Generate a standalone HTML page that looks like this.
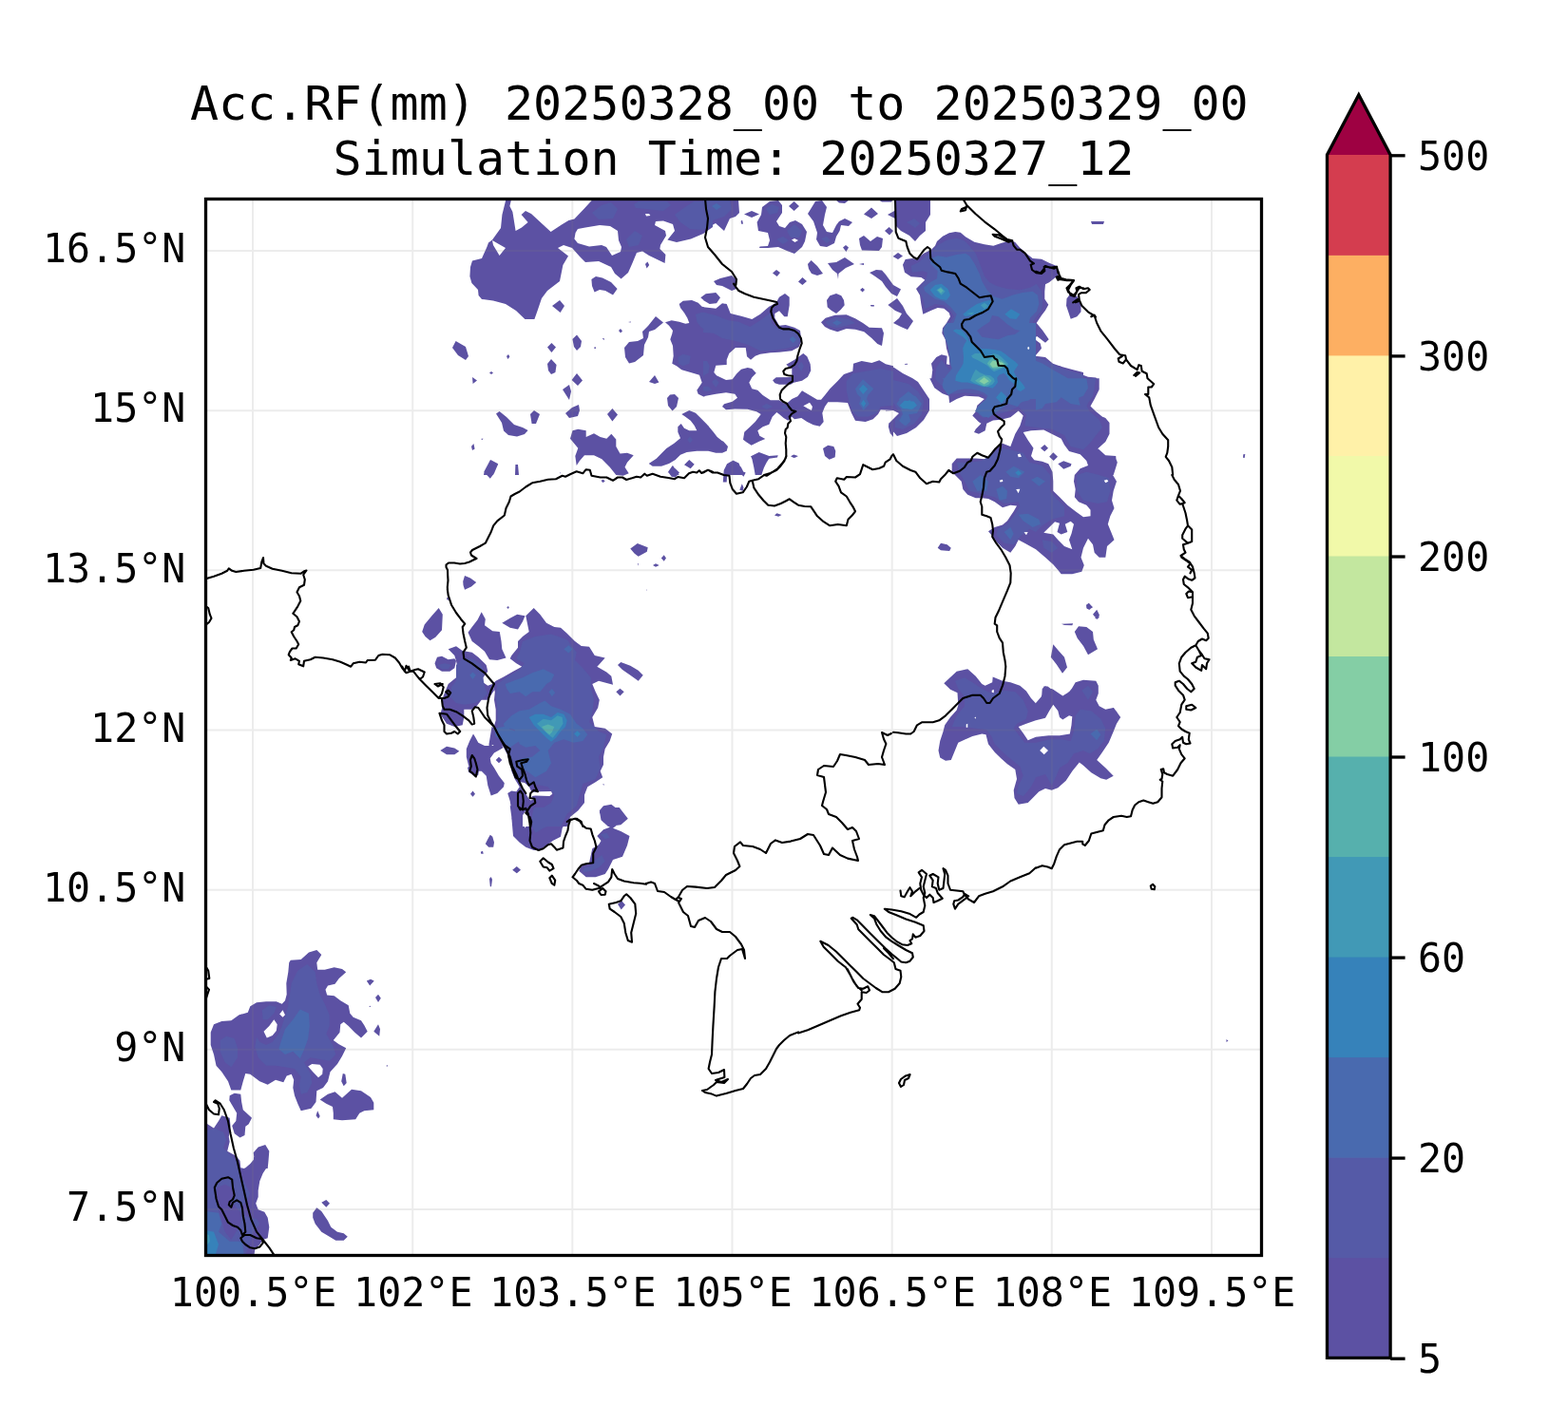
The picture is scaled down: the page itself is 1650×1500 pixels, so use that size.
<!DOCTYPE html>
<html lang="en"><head><meta charset="utf-8"><title>Acc.RF(mm) 20250328_00 to 20250329_00</title>
<style>html,body{margin:0;padding:0;background:#fff}body{width:1650px;height:1500px;overflow:hidden}svg{display:block}text{font-family:"DejaVu Sans Mono","Liberation Mono",monospace;fill:#000}.t{font-size:50px;text-anchor:middle}.k{font-size:41.67px}.c{fill:none;stroke:#000;stroke-width:2.1;stroke-linejoin:round;stroke-linecap:round}.g{stroke:#808080;stroke-opacity:.15;stroke-width:2;fill:none}</style></head><body>
<svg width="1650" height="1500" viewBox="0 0 1650 1500">
<rect width="1650" height="1500" fill="#fff"/>
<defs><clipPath id="ax"><rect x="216.5" y="209.5" width="1111.0" height="1112.0"/></clipPath></defs>
<g clip-path="url(#ax)">
<g id="fills">
<path fill="#5c51a3" d="M532.4 210L538 210L536.4 217L539.4 223L542.6 243L549 239.6L555.6 234L548.6 226L553 222L559 225L579.6 244L591 236.4L598.4 232L604.4 230.4L614.4 220L623.6 210L750 210L750 239L740 246L727 251.6L712 255L702.4 252.4L710 243L708 236L698 232.4L690 233L689 237L700 243L701 248L695 258L694.4 262L700.4 268L699.6 277L683 269L676 264.4L670 266L665 278L661 287L653.6 293.6L647 288L643 281L630 275L616 276L610 270L602 261L593 258L587 261L598 269.6L592.4 279L589 296L576 306L570 314L565.6 327L562.4 336L552.4 336L543 327L532 320L519 316.4L507 315L503.6 311L503 305L496.4 298L494.4 291L495 281L497 274.4L507 272L512.4 260L514 255.6L518 252.4L527 240L528.4 226ZM622.4 294L627 291L634 292.4L643 297L649.6 304L645 310.4L637 306L631 305L625.6 307.6L623 301ZM581 322L589 316L594 322L589.6 329ZM476 366L479.6 359L490 365L493 375L490 379L482 374ZM533 375L535 373L536.4 375.6L534.4 378ZM515 392.4L517 391L519 392.4L517 394ZM497 397L502 400.6L497.6 404ZM576 365.6L580.4 361L585 365.6L580.4 371ZM602.4 357L607 352.4L612 359L611 365L607 369L604 365ZM576 383L580 378L585.6 384L584.4 392L580 394L577 390ZM601.6 400L607 393L613 400.6L608 406ZM592 410L599 405L601 412L599 421ZM595 435L602 429L609 426L610 432L608 438L599 440ZM558 436L562 432L568 436L564 446L559.6 446ZM522 435.6L525.6 433L533 439L541 447L550 450L555.6 453L552 457L544 459.6L535 458L530 453.6L528 445ZM506 462L508.4 461.6L507.6 463ZM496 470L498.4 467L499.6 472.4L497 474ZM509.6 496L516 484L524 489L519 500L509 500ZM542.4 489L545 489L546 500L542 500ZM651 348L653 346L655 348.4L653 350.4ZM625 366L626.4 365L627.2 366.4L626 367.2ZM661 339L664 338.6L663.6 339.6ZM633.6 356.6L635.6 356L636 358ZM683 402L689 395L693.4 402.4L689 404ZM702 419L705 415.6L710 415L714 419L712 428L707.6 432.4L703 427ZM639 436L644.4 430L650 436.6L644.4 443.6ZM657 366L662 360L671 359L677 356L676 349L682 343L690 333L698 339.6L689 347L683 349L682 355L678 363L677 374L668 381L662 382.4L658 376ZM679 278L681.4 275.6L683.2 279L680.6 282.6ZM740 210L777 210L778 224L774 228L768 230L762 243L753 235L746 239L740 244ZM783 225.6L791 222L799 225.6L791 229ZM779.6 233L781 231.6L782 235.6L780.4 236ZM802 218L810 212L819 211L823 216L823 224L817 233L820 238L826 240L831 234L837 232L844 236L849 244L847 254L844 260L836 267L828 264L819 260L808 261L799 261L799.6 259.6L808 259L810 253L808 245L798 243L796.6 234L801 226ZM830 217L835.6 212L841 217L835.6 222ZM850 225L858 212L865 211L870 218L868 226L866 237L870 244L876 245L880 237L883 233L889 230L897 234L893 238L885 237L883.6 243L880 249L878 256L870 260L863 259L859 252L860 245L856 233ZM879 210L894 210L889 214L883 213.6ZM924 210L940 210L938 212.4L928 212.4ZM909 225.6L917 218.4L924 225L917 230ZM942 210L979 210L979 226L974 234L974 243L968 248L963 254L957 248L948 243L943 238L942 230L934 226L942 221.6ZM931 243L935.6 239L940 243L936 247.6ZM904 251L909 248L916 254L923 249L929 251L928 260L925 264L907 263.6L905 258ZM887 260.6L890 258L893 260.6L890.4 265ZM939.6 270L945 266L950 269.6L945 273ZM850 278L853.6 274L860 280L866 288L860 290L854 288L851 283ZM871 277L880 276L889 271L899 278L890 282L882.4 288L882 294L881 288L876 284ZM904 278L909 277L909 279ZM813 287.6L817 284L821 287L817.6 291ZM840 296.4L844.4 292L849 296L844.4 300ZM915 287L922 284L928 284.4L932 289L940 300L948 304.4L944 312L938 309L932 302L928 296L921 291ZM905 305L907.6 303L910 305L907.6 307.4ZM916 321L920 321.2L919.6 322.4L916.4 322.2ZM934.4 321L944 314L950 322L954 330L961 338L955 347L948 344L940 340L946 335L949 330L942 327ZM751 296L758 293L770 290L774.4 294L775 304L770 306L760 301L754 300ZM952 383L955 382.8L955 383.8L952 383.8ZM938 385L950 393L960 398L966 402L972 411L978 420L978 432L972 442L964 450L954 456L944 459L938 452L936 445L942 439L946 435L940 432L932 432.4L932 386ZM740 311.3L746.7 309.3L753.3 308.3L757.3 313.3L753.3 319.3L746.7 320L740 316ZM740 323.3L753.3 324.7L760 319.3L764.7 320L768.7 330L780 332.7L791.3 336L800 330.7L809.3 322.7L816.7 318.7L820 312.7L826 309.1L830.7 312.7L830.7 321.3L828.7 333.3L825.3 333.3L820 327.3L815.3 330L815.3 334.7L820 342.7L826.7 342L836 344.7L842 348L843.3 358.7L840.7 365.3L833.3 369.3L820 370.7L810.7 371.3L800 372.7L794.7 374.7L790 378.7L786 375.3L784.7 366L774 366L767.3 372L764.7 378.7L764.7 384L753.3 384.7L751.3 392L754 395.3L764 400L770.7 399.3L775.3 393.3L780 388.7L786.7 386.9L791.3 388L795.7 392.7L791.3 397.3L788.3 402.7L791.3 409.3L797.3 410.7L802.7 416L810.7 421.3L820 421.3L825.3 424.7L828.7 424L833.3 420L839.3 417.3L844 411.3L853.3 416.7L860 420.7L864 420.7L868 416L873.3 409.3L881.3 401.3L888 394L897.3 390.7L898 382.7L906.7 380L917.3 382L925.3 379.3L932 383.3L940 385.3L940 432L926.7 431.3L924 436L918.7 441.3L910.7 444L900 442.7L896 434.7L892 424L881.3 423.3L871.3 423.3L868 428L865.3 434.7L866.7 444L862.7 448.7L856 447.3L849.3 444L843.3 440L836 441.3L833.3 438.7L829.3 442.7L824.7 440L820 436L817.3 434L812.7 438.7L809.3 446.7L802.7 449.3L797.3 453.3L799.3 458.7L805.3 462L798.7 464.7L790.7 468.7L785.3 465.3L782 462.7L783.3 454.7L789.3 449.3L794.7 444L798.7 438.7L800.7 436L796 433.3L786.7 430.7L773.3 430.4L764 431.3L760 428L762 425.3L770.7 422.7L776 418.7L773.3 414.7L764 413.3L753.3 414.7L740 417.3ZM827.3 383.7L836 378.7L845.3 372L849.3 375.3L852.7 383.3L853.3 390L850 396.7L844 400.7L835.3 402.7L832 404.7L820 404.7L815.3 403.3L813.1 400.3L816.7 397.3L833.3 397.1L833.3 395.3L833.3 388L830.7 386.7ZM870 316L873.3 311.3L880 309.1L885.3 311.3L888 316L888.7 321.3L884.7 326L880 330L874.7 326.7L870.7 323.3ZM905.3 304.7L907.7 302.9L910 305.1L907.7 306.9ZM916 321.3L919.3 321.1L920 322.4L916.7 322.7ZM864 339.3L868.7 334.7L878.7 331.7L890.7 331.3L900 335.3L908 340L914.7 344.7L928 345.3L930 350.7L928 364L923.3 362L917.3 356L909.3 349.3L900 346.7L890.7 346L881.3 349.3L873.3 346.7L868 344ZM740 443.3L745.3 448L750 455.3L754.7 461.3L761.3 464.7L766 470L763.3 474L753.3 476.7L746.7 474.7L740 472ZM790.7 480L798.7 476L804 478L809.3 480L818.7 479.3L818 481.6L809.3 482.7L806.7 486.7L804 492L801.3 500L794.7 500L793.3 492ZM762 500L764 492L766.7 487.3L771.3 484.7L776 486.7L780 492L784 500ZM832 480.3L835.3 478.4L839.7 480L835.3 482ZM866 472L871.3 468.7L877.3 470L879.3 474.7L878.7 481.3L872.7 483.7L868 480ZM935.3 445.3L940 444L940 460L936.7 456L934.9 449.3ZM980 400L981.3 389.3L980 382.7L985.3 376L990.7 373.3L996.7 374.7L996 383.3L999.3 384L998.7 376L996 366.7L994.7 357.3L991.3 350.7L992 345.3L996 340L1000 333.3L998.7 329.3L993.3 324.7L986.7 324L980 326.7L971.3 330.7L969.3 320L968 310.7L964 304L968.7 299.3L973.3 294.7L969.3 292L958.7 291.3L952 286.7L950 278.7L952.7 273.1L960 272L964.7 273.1L972 266.7L980 262.7L984 258.7L986 254L992 248.7L998.7 245.3L1005.3 244L1010.7 244.7L1016 249.3L1025.3 254.7L1036 257.3L1045.3 258.7L1053.3 256L1062.7 253.3L1068 254.7L1073.3 260.7L1080 266.7L1086.7 272L1096 272.7L1104 276.7L1112 280L1114.7 288L1110.7 292L1104 297.3L1100 299.3L1099.3 306.7L1099.3 314.7L1103.3 320.7L1100 326.7L1096 332L1090.7 340L1097.3 348L1103.7 357.3L1100 360.7L1091.3 354L1087.7 356.3L1094.7 361.6L1096 366.7L1089.3 374.7L1100 376L1108 382.7L1117.3 386L1129.3 389.3L1140 392L1140 400ZM1122.5 314.2L1125.8 310L1133.3 311.7L1137.5 320L1137.5 328.3L1133.3 333.3L1126.7 335.8L1124.2 328.3L1122 321.7ZM1090 375L1098.3 376.7L1106.7 383.3L1115 385L1131.7 391.7L1145 396.7L1153.3 397.5L1156.7 400.8L1156.7 410L1151.7 420L1147.5 427.5L1155.8 436.7L1163.3 440L1167.5 445L1167.5 456.7L1163.3 465L1155 472.5L1160 479.2L1173.3 480L1175.8 486.7L1173.3 495L1171.7 500L1130 500L1131.7 496.7L1138.3 492.5L1145 489.2L1140 482.5L1131.7 474.2L1120.8 468.3L1118.3 460.8L1108.3 456.7L1098.3 452.5L1090 453.3ZM1095 471.7L1099.2 467.5L1103.3 471.7L1099.2 475.8ZM1104.2 480.8L1108.3 475.8L1113 480.8L1108.7 485.3ZM1113.3 488.3L1118.3 485L1128.3 488.3L1126.7 490.8L1118.3 493.7ZM1090 488.3L1096.7 486.7L1103.3 491.7L1107.5 500L1090 500ZM1308.3 478.3L1310.3 478L1309.7 482L1308 481.7ZM1148 233L1162 233L1161 236L1149 236ZM1156.7 398.3L1156.7 406.7L1153.3 416.7L1146.7 426.7L1153.3 433.3L1161.7 440L1167.5 446.7L1166.7 456.7L1163.3 463.3L1155 471.7L1163.3 479.2L1174.2 480L1175 490L1170 498.3L1175 506.7L1171.7 516.7L1170 526.7L1172.5 535L1168.3 543.3L1165.8 551.7L1169.2 560L1172.5 568.3L1165 575L1163.3 586.7L1156.7 586.7L1151.7 581.7L1150 573.3L1145 566.7L1140 576.7L1137.5 586.7L1140.8 595L1138.3 601.7L1128.3 604.2L1116.7 604.2L1113.3 600L1108.3 594.2L1100 586.7L1090 578.3L1078.3 571.7L1071.7 568.3L1068.3 575L1063.3 581.7L1055 576.7L1048.3 570L1044.2 564.2L1040 559.2L1046.7 555L1055 552.5L1060 548.3L1063.3 543.3L1066.7 538.3L1070 532.5L1063.3 531.7L1055 534.2L1046.7 528.3L1040 525L1033.3 524.2L1026.7 524.2L1018.3 520.8L1013.3 515L1011.7 506.7L1006.7 501.7L1001.7 496.7L1001.7 488.3L1006.7 482.5L1016.7 482.5L1026.7 482.5L1036.7 483.3L1040 481.7L1046.7 471.7L1055 466.7L1063.3 470L1068.3 456.7L1073.3 448.3L1076.7 437.5L1071.7 432.5L1063.3 439.2L1053.3 441.7L1045 442.5L1038.3 445.8L1036.7 453.3L1030 456.7L1025 455L1026.7 451.7L1032.5 445.8L1030 444.2L1023.3 437.5L1026.7 433.3L1028.3 426.7L1035.8 420L1030 417.5L1015 416.7L1006.7 420L999.2 424.2L998.3 416.7L991.7 414.2L983.3 408.3L978.3 398.3ZM986.7 576.7L990 571.7L996.7 573.3L1000.8 576.7L999.2 580L990 579.2ZM1143.3 636.7L1145.8 635L1149.7 638.7L1146.7 641.7L1143.7 640.8ZM1150.8 648.3L1154.2 642.5L1156.7 650ZM1143 636.7L1145.8 634.7L1150 639.2L1145.8 641.7L1143.3 640ZM1150 646.7L1154.2 641.7L1157 647.5L1154.7 652ZM1117 656.7L1129.2 656.3L1128.3 658.3L1120 658ZM1130.8 665L1135 659.2L1143.3 660L1150 665L1150.8 673.3L1155 683.3L1145 689.2L1140 680L1133.7 671.7ZM1105.8 691.7L1108.3 678.3L1113.3 684.2L1120 691.7L1123 702.5L1118 708.7L1111.7 699.2ZM1090 740L1095.8 733.3L1098.3 722.5L1102.5 722.5L1110 728.3L1118.3 733.3L1126.7 726.7L1131.7 718.3L1140 715.8L1153.3 716.7L1155.8 721.7L1155.8 730L1153.3 736.7L1156.7 743.3L1163.3 746.7L1171.7 745L1175.8 750L1112.5 750L1109.2 741.7L1105.8 750L1090 750ZM993.3 719.2L1006.7 706.7L1018.3 704.2L1026.7 711.7L1033.3 720L1036.7 721.7L1044.2 718.3L1044.7 712.5L1055 716.7L1063.3 718.3L1073.3 721.7L1080 727.5L1085 735L1090.8 741.3L1095.8 738.3L1096.7 725L1100 722L1108.3 725.8L1118.3 732.5L1125 728.3L1131.7 720L1140 716.7L1153.3 717.5L1155.8 723.3L1155 731.7L1152.5 736.7L1155 742.5L1161.7 747.5L1172.5 745.8L1179.2 755L1175 761.7L1171.7 770L1166.7 781.7L1160 791.7L1154.2 800L1163.3 808.3L1171.7 816.7L1164.2 820.8L1158.3 819.2L1148.3 813.3L1140 805.8L1135.8 802.5L1128.3 811.7L1121.7 821.7L1113.3 829.2L1106.7 831.7L1100 830L1093.3 833.3L1086.7 840L1081.7 845L1071.7 846.7L1067.5 840L1066.7 831.7L1070 820L1068.3 810L1060 804.2L1053.3 798.3L1046.7 791.7L1040 783.3L1037.5 773.3L1033.3 772.5L1023.3 775L1008.3 781.7L1004.2 791.7L1000.8 800L995 800.8L989.2 797.5L987.5 790L989.2 780L992.5 770L994.2 763.3L1000 755L1006.7 747.5L1008.3 742.5L1007.5 729.2L1000 725.8ZM1151.7 650L1156.7 650L1154.2 651.7ZM444.2 665L446.7 657.5L455 647.5L461.7 640L465.8 646.7L465 663.3L458.3 670.8L452.5 674.2L447.5 670ZM470 629.2L472.5 629.2L472.5 631.7L470.3 631.3ZM533.3 639.2L535 638L535.8 640L534.2 640.8ZM492.5 665.8L496.7 660L502.5 652.5L506.7 644.2L510.8 651.7L510 658.3L518.3 664.2L525.8 665L527.5 675L528.3 683.3L532.5 692.5L523.3 695L515 694.2L510 685.8L504.2 680.8L496.7 675ZM528.3 655.8L536.7 650.8L544.2 646.7L552.5 648.3L550 654.2L545 662.5L536.7 660.8ZM471.7 683.3L480 680.3L486.7 685L496.7 686.7L503.3 691.7L511.7 700L513.3 706.7L508.3 713.3L508.3 718.3L513.3 721.7L518.3 720L520 726.7L513.3 736.7L506.7 736.7L501.7 743.3L496.7 746.7L488.3 746.7L488.3 755L486.7 763.3L478.3 765L470 761.7L463.3 751.7L465.8 743.3L465 736.7L468.3 728.3L471.7 720L480 713.3L481.7 703.3L480 695.8L478.3 690ZM457.5 698.3L460 691.7L465 690.8L471.7 694.2L478.3 693.3L480 695.8L478.3 703.3L473.3 706.7L465 706.7L459.2 703.3ZM553.3 648.3L561.7 640L568.3 646.7L575 655.8L583.3 660L590 660.8L596.7 666.7L605 675L611.7 680L620 680.8L625.8 690L636.7 692.5L630 700L628.3 701.7L638.3 707.5L643.3 711.7L645 720.8L630 716.7L623.3 720L626.7 728.3L630.8 736.7L629.2 745L623.3 755L625.8 765L636.7 766.7L644.2 772.5L641.7 780L636.7 788.3L635 796.7L635 805L631.7 811.7L634.2 818.3L626.7 823.3L618.3 828.3L615 836.7L615 845L608.3 853.3L600 860L596.7 870L540 870L538.3 861.7L538.3 853.3L536.7 843.3L534.2 835L538.3 832.5L543.3 833.3L546.7 828.3L541.7 820L538.3 811.7L536.7 803.3L533.3 793.3L530 786.7L523.3 780L518.3 773.3L519.2 766.7L521.7 758.3L521.7 746.7L520 736.7L520.8 728.3L518.3 720L521.7 716.7L530 712.5L540 706.7L549.2 701.7L543.3 698.3L536.7 693.3L538.3 690L545 681.7L545 675L550 670L556.7 665ZM500 775.8L503.3 781.7L510 785L516.7 785L523.3 785L530 786.7L525.8 789.2L520 792.5L515.8 798.3L516.7 803.3L520 808.3L525 816.7L530.8 824.2L530 828.3L523.3 835L516.7 837.5L513.3 826.7L511.7 816.7L506.7 811.7L500 811.7L493.3 806.7L490.8 796.7L490.8 788.3L494.2 780L498 772.5ZM521.7 800L525 796.7L528.3 800L525 803.3ZM463.3 790L470 785.8L478.3 787.5L483.3 790.8L478.3 794.2L470 794.2ZM495 835.8L497.5 832.5L500 835.8L497.5 838.7ZM650 700L653.3 697L663.3 700.8L671.7 705.8L676.7 710.8L671.7 716.7L663.3 710.8L655 705ZM648.3 728.3L652.5 724.7L656.7 728.3L652.5 732.5ZM634.2 825.8L635.3 825L635.8 826.7ZM630.8 853.3L635 848.3L643.3 846.7L651.7 853.3L660.8 861.7L653.3 868.3L640 870L632.5 863.3ZM610 848.3L603.3 855L596.7 863.3L591.7 871.7L590 880.8L581.7 885L575 890L568.3 895L561.7 895L553.3 891.7L546.7 886.7L540 880L538.3 860L536.7 848.3ZM630.8 855L635 850L651.7 850L660.8 861.7L651.7 866.7L645 871.7L653.3 875L662.5 880L660 890L655 901.7L645 905L640 915L636.7 920L626.7 923.3L616.7 923.3L609.2 916.7L611.7 911.7L620 908.3L623.3 893.3L630 889.2L632.5 885L628.3 880L635 873.3L641.7 870.8L634.2 865ZM510.8 888.3L513.3 883.3L515.8 878.7L518.3 880.8L520 886.7L519.2 891.7L514.2 891.7ZM505.8 896.7L508 895.8L508.7 898.7L506.3 898.7ZM539.2 915.8L543.8 912L548 915.8L543.8 919.2ZM515 925L516.7 923L518 925.8L517 933.3L515.8 933.3ZM650 951.7L654.2 948.3L658 952.5L653.7 957.5ZM305.8 1010.8L316.7 1010L325 1002.5L333.3 1000L338.3 1005L333.3 1013.3L334.2 1020.8L341.7 1020.8L351.7 1018.3L360 1020L364.2 1023.3L356.7 1030L352.5 1035.8L345 1037.5L342.5 1041.7L344.2 1047.5L351.7 1048.3L358.3 1053.3L366.7 1058.3L368.3 1066.7L371.7 1070.8L380 1074.2L383.3 1079.2L386.7 1085.8L380 1092.5L373.3 1086.7L366.7 1080L361.7 1075.8L358.3 1078.3L357.5 1086.7L350.8 1095L356.7 1099.2L364.2 1103.3L360 1111.7L355 1120L347.5 1128.3L345 1138.3L340 1145L333.3 1148.3L332.5 1160L327.5 1166.7L316.7 1169.2L313.3 1161.7L310 1153.3L308.3 1145L309.2 1136.7L306.7 1130.8L301.7 1132.5L298.3 1139.2L290 1136.7L281.7 1141.7L273.3 1138.3L263.3 1130.8L258.3 1130L255.8 1138.3L253.3 1147.5L243.3 1147.5L240 1138.3L233.3 1128.3L227.5 1121.7L225 1110L221.7 1100L221.7 1086.7L225 1078.3L233.3 1075L243.3 1074.2L251.7 1068.3L260.8 1065.8L263.3 1059.2L270 1055.3L280 1054.2L290.8 1054.2L296.7 1056.7L300 1053.3L301.7 1046.7L301.3 1035L303.3 1023.3L304.2 1013.3ZM241.7 1153.3L246.7 1150.8L253.3 1151.7L254.2 1160L255.8 1168.3L265 1176.7L261.7 1183.3L258.3 1185.8L257.5 1195L252.5 1197.5L246.7 1193.3L244.2 1185L248.3 1180L249.2 1171.7L244.2 1163.3L241.3 1158.3ZM336.7 1157.5L345 1151.7L352.5 1149.2L360 1155.8L370 1146.7L380 1148.3L390 1155L393.3 1160.8L393.3 1168.3L383.3 1169.2L378.3 1171.7L374.2 1178.3L360 1179.2L350.8 1178.3L350.8 1171.7L350 1165L343.3 1161.7ZM332.5 1174.2L334.2 1169.2L336.7 1175L335 1177.5ZM359.2 1138.3L360.8 1130L363.3 1130.8L364.7 1140L361.7 1143.3ZM385.8 1032.5L390 1030.8L393.7 1032.5L389.2 1037.5ZM395 1050L398 1046.7L400.8 1050.8L398 1055ZM393.3 1085.8L398 1078.3L400 1083.3L399.2 1090.8ZM388 1059.2L390 1058.8L390 1060ZM406.2 1122L408 1121L407.7 1122.8ZM215.8 1182.5L225 1187.5L230 1180L233.3 1174.2L241.7 1176.7L242.5 1185L240.8 1196.7L241.7 1201.7L239.2 1211.7L248.3 1216.7L252.5 1221.7L253.3 1230L215.8 1230ZM257.5 1230L263.3 1225L267.5 1220L266.7 1213.3L271.7 1207.5L279.2 1205L283.3 1211.7L282.5 1221.7L281.7 1230ZM215.8 1181.7L225 1187.5L230 1180L233.3 1174.2L241.7 1176.7L242.5 1185L240.8 1196.7L241.7 1201.7L239.2 1211.7L248.3 1216.7L252.5 1221.7L253.3 1229.2L256.7 1230L261.7 1227.5L266.7 1222.5L267.5 1213.3L271.7 1207.5L279.2 1205L283.3 1211.7L282.5 1221.7L280 1230L276.7 1235L273.3 1243.3L271.7 1253.3L271.7 1260L269.2 1266.7L271.7 1273.3L278.3 1275.8L281.7 1281.7L283.3 1291.7L281.7 1303.3L276.7 1305L273.3 1310L268.3 1315L267.5 1320.8L215.8 1320.8ZM338.3 1265.8L343.3 1263L347 1266.7L343.3 1270.8ZM329.2 1276.7L333.3 1271.3L338.3 1275L345 1285L348.3 1291.7L355 1296.7L361.7 1298.3L365.8 1301.7L361.7 1305.8L353.3 1305.8L346.7 1301.7L338.3 1296.7L331.7 1288.3L329.2 1281.7ZM714.7 320L718.7 316.7L728 316L734.7 318.7L738.7 322.7L741.3 323.3L741.3 418L734.7 414.7L733.3 410.7L736 406.7L738.7 402.7L736 394.7L726.7 392L717.3 389.3L712 385.3L707.3 382.7L708.7 374.7L708 364L705.3 357.3L707.3 351.3L708 348L704 342.7L700 339.3L706.7 337.3L714.7 338.7L721.3 340.7L725.3 340L723.3 334.7L720 329.3L716 324ZM737.3 313.3L742.7 309.3L753.3 308L758 313.3L754 319.3L746.7 318.7L741.3 316.7ZM717.3 436L725.3 432L732 434.7L737.3 440L744 446.7L750.7 454.7L754.7 460L761.3 465.3L766 470L764.7 474.7L760 476.7L753.3 476.7L745.3 474.7L733.3 474.7L722.7 476L716 478.7L710.7 484L704 488L696 490.7L686.7 490.7L682.7 488L690.7 482.7L697.3 476L701.3 472L709.3 466.7L716 461.3L713.3 454.7L713.3 449.3L716.7 446L720 450.7L725.3 453.3L733.3 453.3L730.7 448L726.7 442.7L721.3 438.7ZM720 489.3L725.3 484L730.7 488.7L726.7 493.3ZM702.7 497.3L708 490L714.7 500ZM600 461.7L602.5 453.3L608.3 451.7L616.7 453.3L616.7 460L625 456.3L631.7 460L638.3 461.7L643.3 456.7L648.3 462.5L648.3 470L652.5 477.5L660 476.7L666.7 479.2L660 486.7L657.5 491.7L661.7 498.3L655.8 500.8L648.3 500L641.7 491.7L633.3 483.3L625 479.2L615 479.2L610 485L606.7 490L605.3 480L608.3 471.7L603.3 465.8ZM632.5 505.8L635 504.7L636.7 506.7L634.2 508ZM703 496.7L707.5 490.3L715 497.5L710.8 502.5L706.7 501.7ZM509.2 496.7L516.7 484.2L524.2 488.3L520 498.3L515.8 503.7ZM542.2 495L543.7 489.2L545 489.7L545.8 498.3L542.5 498.7ZM505.8 462L508 461.7L508 462.8ZM589.2 497.5L590 497.2L590 498.7ZM663.3 577.5L670.8 572L681.7 576.3L680.8 580.8L671.7 585.8L667.5 582.5ZM695.8 587.5L698.7 584.2L701 587.5L698.7 590.8ZM687 595L690 593.3L693.7 595L690 596.7ZM670.8 593.3L671.7 593L671.7 595.8ZM680 620.8L681 620.8L681 621.7ZM533.3 639.2L535 638L535.8 639.7L534.3 640.8ZM760.8 507.5L761.7 495L765 488.3L771.7 484.7L777.5 487.5L780.8 495.8L784.7 497.5L782.5 501.7L779.2 498.3L773.3 495.8L768.3 496.7L765 501.7L764.7 507.5ZM790 480L818.3 480L808.3 483.3L804.2 491.7L800.8 498.3L795 498.3L794.2 490ZM778.3 515.8L780.8 509.2L782.5 513.3L781.7 516.7ZM832.5 480L840 480L836.7 481.7ZM815 542.5L817.5 540.3L822.5 542L819.2 543.7ZM487.2 612L489 606L495 608.5L501.2 613L496 617.5L489 620.8L487.5 616ZM1290.5 1094L1292.5 1095.5L1290.5 1097ZM496 804.8L504 804.8L507.2 810L504 811.2L503.2 816L500 817.6L493.2 812.8L492 808ZM517.6 764.8L521.6 768L524.8 780L529.6 787.2L521.6 786.4L518.4 784L515.2 786.8L514.4 784Z"/>
<path fill="#555aa7" d="M623 224L633 216L643 213L650 220L645 230L630 231ZM659 252L668 243L676 248L672 258L662 260ZM667 215L672 212L702 212L706 216L698 222L680 220L669 219ZM710 226L718 220L730 212L750 212L750 238L740 242L726 241L716 234ZM740 211L768 211L770 220L762 228L750 232L740 237ZM828 243L836 236L844 243L841 250L832 250ZM806 220L812 215L820 218L818 224L810 226ZM817 252L824 249L830 253L824 257ZM864 251L870 249L874 253L870 256ZM955 234L962 230L968 235L963 240ZM940 400L956 404L966 412L972 422L970 436L962 446L950 452L942 450L942 442L948 436L940 424ZM868 338.7L880 334L893.3 336L900 340L890.7 342.7L880 345.3L872 342.7ZM890.7 401.3L897.3 393.3L910.7 390.7L926.7 388L940 390.7L940 426.7L926.7 428L922.7 434.7L913.3 438.7L902.7 438.7L897.3 433.3L893.3 422.7L890.7 410.7ZM740 328.7L753.3 332L766.7 337.3L777.3 338.7L789.3 344L800 337.3L810.7 329.3L812 340L818.7 346L833.3 345.3L840.7 350.7L842 358.7L838.7 364L826.7 366.7L813.3 368.7L800 369.3L786.7 362.7L773.3 358.7L760 356L750.7 350.7L740 350ZM740 380L744 380L746.7 385.3L744 393.3L740 396ZM749.3 401.3L753.3 398.7L756.7 402.7L753.3 408ZM740 406.7L745.3 406.7L749.3 410.7L744 412L740 411.3ZM839.3 385.3L843.3 380.7L846 385.3L843.3 390.7ZM801.3 428L806.7 424.7L813.3 428L806.7 430.7ZM821.3 428L825.3 426L828.7 428.7L825.3 431.3ZM958.7 280L966.7 276L974.7 269.3L980 265.3L986 258.7L996 252.7L1006.7 250.7L1014.7 253.3L1020 258.7L1026.7 266.7L1032 280L1036 290.7L1041.3 297.3L1049.3 301.3L1060 304L1073.3 305.3L1084 302.7L1090.7 298.7L1096 306.7L1097.3 317.3L1096 326.7L1089.3 334.7L1086.7 340L1084 346.7L1080 353.3L1076 360L1078.7 370.7L1086.7 374.7L1100 378.7L1113.3 386.7L1126.7 390.7L1140 394.7L1140 400L984 400L985.3 386.7L990.7 378.7L998.7 389.3L1001.3 386.7L1000 370.7L998.7 360L995.3 353.3L996 346.7L998.7 341.3L1004 333.3L1001.3 328L993.3 321.3L984 320L973.3 325.3L972 317.3L970.7 313.3L966.7 305.3L969.3 301.3L974.7 293.3L976 286.7L970.7 285.3L960 286.7ZM954 234L961.3 230.4L967.3 234.4L962 238.7ZM1090 378.3L1106.7 388.3L1131.7 396.7L1145 401.7L1151.7 403.3L1151.7 410L1146.7 420L1143.3 428.3L1146.7 435L1145 446.7L1140 463.3L1131.7 468.3L1123.3 463.3L1120 456.7L1106.7 450L1090 450ZM1153.3 398.3L1150 416.7L1143.3 426.7L1146.7 433.3L1156.7 441.7L1160 450L1153.3 458.3L1146.7 466.7L1140 473.3L1126.7 470L1120 458.3L1106.7 451.7L1090 450L1078.3 448.3L1080 436.7L1071.7 428.3L1060 433.3L1046.7 436.7L1035 440L1030 436.7L1033.3 428.3L1040 420L1033.3 415L1015 413.3L1001.7 415L995 410L983.3 398.3ZM1006.7 486.7L1018.3 486.7L1033.3 485L1043.3 478.3L1053.3 471.7L1063.3 473.3L1076.7 476.7L1083.3 486.7L1096.7 490L1105 500L1105 516.7L1110 523.3L1120 533.3L1120 543.3L1106.7 546.7L1096.7 553.3L1090 560L1083.3 556.7L1073.3 565L1066.7 573.3L1056.7 571.7L1048.3 563.3L1050 556.7L1060 551.7L1066.7 543.3L1073.3 533.3L1071.7 528.3L1056.7 530L1046.7 523.3L1033.3 520L1020 516.7L1015 506.7L1010 498.3ZM1133.3 500L1143.3 496.7L1156.7 500L1166.7 503.3L1168.3 516.7L1165 528.3L1155 530L1140 526.7L1133.3 516.7ZM1096.7 568.3L1106.7 570L1113.3 576.7L1106.7 581.7L1098.3 576.7ZM1138.3 726.7L1145 721.7L1150 728.3L1145 736.7ZM1005 716.7L1015 713.3L1023.3 718.3L1033.3 725L1043.3 730L1056.7 726.7L1068.3 728.3L1076.7 736.7L1081.7 748.3L1080 756.7L1070 761.7L1066.7 766.7L1071.7 773.3L1078.3 781.7L1090 781.7L1105 778.3L1116.7 778.3L1126.7 780L1130 770L1131.7 753.3L1136.7 746.7L1148.3 748.3L1158.3 756.7L1163.3 766.7L1161.7 780L1155 788.3L1146.7 793.3L1140 790L1130 793.3L1123.3 803.3L1115 808.3L1111.7 816.7L1106.7 826.7L1100 815L1090 818.3L1085 828.3L1076.7 838.3L1070 835L1071.7 826.7L1076.7 816.7L1073.3 806.7L1065 800L1056.7 793.3L1046.7 783.3L1043.3 775L1038.3 768.3L1026.7 766.7L1013.3 765L1001.7 765L1006.7 753.3L1015 743.3L1015 733.3L1008.3 725ZM1138.3 726.7L1145 721.7L1150 728.3L1145 736.7ZM550 675L563.3 670L580 667.5L596.7 673.3L606.7 686.7L605 695L613.3 703.3L621.7 713.3L621.7 723.3L625 736.7L623.3 750L620 760L630 770L638.3 773.3L635 786.7L630 796.7L631.7 808.3L626.7 820L613.3 825L610 836.7L606.7 848.3L596.7 856.7L590 870L563.3 870L566.7 853.3L580 845L583.3 836.7L576.7 828.3L560 825L546.7 820L538.3 806.7L533.3 790L525 776.7L523.3 763.3L523.3 746.7L521.7 733.3L523.3 720L533.3 713.3L546.7 705L551.7 698.3L543.3 693.3L546.7 686.7ZM480 700L486.7 693.3L496.7 693.3L505 698.3L510 706.7L508.3 713.3L510 723.3L513.3 730L508.3 735L500 740L488.3 741.7L480 740L473.3 733.3L475 723.3L480 716.7ZM460.8 700L468.3 698.3L475 700L471.7 704.2L465 704.2ZM561.7 850L580 850L590 856.7L588.3 865L580 868.3L571.7 871.7L563.3 876.7L560 870L560 858.3ZM631.7 878.3L638.3 876.7L641.7 881.7L636.7 883.3ZM626.7 905L633.3 900L636.7 906.7L630 913.3L621.7 916.7L613.3 918.3L615 913.3L621.7 911.7ZM306.7 1035L313.3 1021.7L323.3 1015L331.7 1023.3L333.3 1035L336.7 1046.7L341.7 1056.7L346.7 1068.3L346.7 1080L343.3 1088.3L350 1100L353.3 1110L346.7 1116.7L336.7 1115L326.7 1113.3L320 1118.3L326.7 1130L328.3 1140L323.3 1150L316.7 1151.7L315 1141.7L316.7 1133.3L310 1125L300 1123.3L290 1121.7L280 1121.7L271.7 1113.3L268.3 1101.7L270 1091.7L273.3 1096.7L280 1100L286.7 1096.7L293.3 1088.3L296.7 1080L300 1070L303.3 1058.3L305 1046.7ZM231.7 1095L238.3 1090.8L246.7 1093.3L250 1103.3L250 1113.3L243.3 1123.3L236.7 1118.3L231.7 1106.7ZM275.8 1063.3L283.3 1058.3L290.8 1060L288.3 1066.7L281.7 1073.3L276.7 1073.3ZM215.8 1190L226.7 1188.3L235 1191.7L235.8 1201.7L225 1200L215.8 1203.3ZM215.8 1211.7L233.3 1213.3L246.7 1220L250 1230L215.8 1230ZM215.8 1190L226.7 1188.3L235 1191.7L238.3 1200L235 1208.3L243.3 1216.7L250 1223.3L251.7 1233.3L258.3 1246.7L263.3 1256.7L260 1263.3L255 1270L258.3 1280L270 1283.3L273.3 1288.3L266.7 1296.7L263.3 1306.7L258.3 1320.8L215.8 1320.8ZM732 330.7L738.7 328.7L746.7 330.7L753.3 337.3L760 338.7L760 356L753.3 350.7L744 349.3L737.3 344L733.3 338.7ZM713.3 376L718.7 372.7L726.7 374.7L725.3 382.7L718.7 385.3L714 382.7ZM740 382.7L744 380L746.7 385.3L745.3 393.3L742 392ZM749.3 402.7L753.3 398.7L756 402.7L753.3 408ZM723.3 462.7L726 459.3L729.1 462.7L726 466.7Z"/>
<path fill="#496aaf" d="M749 217L754 214L759 217.6L754 221ZM946 420L956 412L966 420L964 430L956 436L958 442L952 448L946 443L950 436L948 430ZM876 339.7L880.7 337.1L886 339.7L880.7 342.7ZM900 409.3L908 399.3L919.3 409.3L913.3 416L912 420L914.7 425.3L908.7 432L904 425.3L906 418.7L902 414.7ZM830.7 357.3L834 354L838 357.3L834.7 361.1ZM980 272L986.7 269.3L996 270.7L1006.7 268L1016 266.7L1020 269.3L1025.3 277.3L1030.7 288L1033.3 296L1038.7 305.3L1045.3 312L1054.7 314.7L1065.3 310.7L1076 308L1086.7 306.7L1092 310.7L1093.3 320L1090.7 328L1084 334.7L1082.7 341.3L1078.7 346.7L1073.3 350.7L1074.7 357.3L1076 368L1084 377.3L1097.3 382.7L1108 389.3L1120 396L1126.7 400L1004 400L1005.3 393.3L1006.7 386.7L1009.3 373.3L1012 365.3L1006.7 360L1000 354.7L997.3 346.7L998.7 344L1004 338.7L1006.7 330.7L1000 322.7L993.3 317.3L984 314.7L973.3 306.7L972 302.7L978.7 297.3L986 293.3L986.7 285.3L978.7 277.3ZM1090 383.3L1106.7 393.3L1123.3 398.3L1135 403.3L1138.3 410L1135 420L1136.7 426.7L1126.7 425L1116.7 418.3L1111.7 423.3L1100 425L1096.7 430L1090 431.7ZM1143.3 398.3L1145 408.3L1140 416.7L1126.7 421.7L1116.7 416.7L1106.7 420L1098.3 423.3L1090 416.7L1081.7 421.7L1073.3 423.3L1063.3 418.3L1053.3 411.7L1043.3 415L1033.3 410L1023.3 408.3L1010 410L998.3 406.7L991.7 398.3ZM1030 433.3L1040 428.3L1048.3 433.3L1040 440ZM1023.3 506.7L1031.7 500L1040 506.7L1038.3 516.7L1028.3 516.7ZM1048.3 515L1055 511.7L1060 516.7L1059.2 525L1051.7 526.7ZM1058.3 496.7L1066.7 490.8L1078.3 496.7L1071.7 503.3L1063.3 501.7ZM1085 505L1091.7 501.7L1100 506.7L1093.3 511.7ZM1071.7 541.7L1081.7 540.8L1093.3 546.7L1095 551.7L1086.7 555L1076.7 548.3ZM1056.7 560L1063.3 555L1066.7 561.7L1063.3 568.3ZM943.3 425L950 416.7L963.3 416.7L970 425L965 435L953.3 436.7ZM946.7 443.3L953.3 438.3L958.3 443.3L953.3 448.3ZM1147.5 772.5L1154.2 767.5L1158.3 773.3L1154.2 779.2ZM531.7 720L540 716.7L550 713.3L560 708.3L571.7 704.2L583.3 710L580 716.7L575 720L568.3 728.3L560 728.3L553.3 733.3L546.7 728.3L536.7 730L533.3 725ZM530 761.7L538.3 753.3L546.7 748.3L556.7 746.7L568.3 740L573.3 737.5L580 743.3L590 746.7L600 751.7L606.7 761.7L613.3 766.7L618.3 773.3L613.3 780L603.3 781.7L593.3 778.3L583.3 781.7L576.7 790L578.3 796.7L580 803.3L575 811.7L563.3 818.3L556.7 813.3L550 808.3L545 803.3L550 798.3L560 796.7L568.3 790L563.3 785L553.3 786.7L546.7 783.3L545 776.7L541.7 768.3L536.7 766.7L531.7 770ZM520 766.7L530 765L543.3 770L546.7 780L536.7 786.7L528.3 780L521.7 775ZM577.5 728.3L580.8 725L584.2 729.2L580.8 733.3ZM593.3 683.3L598.3 679.2L602.5 683.3L598.3 687.5ZM494.2 710.8L497.5 707.5L500.8 710.8L497.5 715ZM293.3 1104.2L296.7 1093.3L300 1083.3L308.3 1073.3L315.8 1062.5L325 1066.7L325.8 1080L324.2 1093.3L320 1105L315.8 1114.2L308.3 1106.7L300 1110ZM215.8 1275L230 1276.7L233.3 1288.3L230 1296.7L241.7 1306.7L255 1306.7L256.7 1320.8L215.8 1320.8ZM1090 340L1090 420L1082 420L1074 424L1070.8 428L1066 426.4L1060.4 424.8L1056.4 428L1050 432.8L1044.4 436L1039.6 439.2L1034 438.4L1029.2 434.4L1026 432.8L1029.2 428L1033.2 424L1037.2 420.8L1039.6 416.8L1035.6 413.6L1030 411.2L1022 409.6L1014.8 409.6L1007.6 410.4L1002 413.6L998 416L992.4 408.8L991.6 404.8L993.2 399.2L996.4 394.4L1002 388L1000.4 384L998.8 372L998 366.4L996.4 360.8L994 354.4L992.4 347.2L996.4 340Z"/>
<path fill="#3682ba" d="M951 426L957 421L963 426L957 431ZM904 409.6L908.3 404.7L913.1 409.6L908.3 414.9ZM906 424.7L908.7 420.7L911.3 424.7L908.7 428.7ZM978.7 305.3L984 300L990.7 298.7L997.3 304L1000 310.7L996 316L989.3 314.7L984 312ZM1013.3 330.7L1020 325.3L1028 320L1036 317.3L1041.3 316L1044 318.7L1038.7 325.3L1030.7 329.3L1022.7 332L1016 333.3ZM1057.3 330.7L1064 325.3L1073.3 330.7L1069.3 336L1062.7 335.3ZM1068.3 497.5L1071.7 495L1075 498.3L1071.7 500.8ZM946.7 426.7L951.7 421.7L961.7 422.5L965 426.7L960 430.8L950 430ZM556.7 755L563.3 751.7L571.7 751.7L580 755L586.7 750L593.3 751.7L596.7 758.3L595 765L590 770L585 776.7L580 780.8L575 776.7L568.3 770L561.7 763.3ZM604.2 772.5L607.5 769.2L610.8 772.5L607.5 775.8ZM215.8 1295L225 1296.7L230 1310L226.7 1320.8L215.8 1320.8ZM1002.8 348L1006 346.4L1011.6 347.2L1014.8 350.4L1018 354.4L1019.6 358.4L1024.4 362.4L1029.2 365.6L1033.2 367.2L1038.8 367.2L1046 368L1053.2 369.6L1058 372.8L1062.8 376.8L1068.4 380.8L1071.6 384L1068.4 388.8L1066.8 391.2L1069.2 396L1073.2 400.8L1077.2 405.6L1078.8 408.8L1074 412L1070.8 410.4L1068.4 405.6L1066 403.2L1062 400L1059.6 396L1056.4 392.8L1051.6 394.4L1049.2 397.6L1050 402.4L1046.8 406.4L1044.4 408.8L1039.6 407.2L1034 407.2L1029.2 405.6L1023.6 404L1018 402.4L1011.6 402.4L1005.2 400.8L1006 395.2L1008.4 391.2L1011.6 386.4L1013.6 382.4L1014 376L1013.2 366.4L1014.8 362.4L1017.2 358.4L1013.2 354.4L1008.4 352ZM1048 418.4L1053.6 412L1059.6 418L1054 424.8Z"/>
<path fill="#4199b6" d="M985.3 305.3L990 302L994.7 306.7L990.7 310.7ZM1032 321.3L1036 318.7L1040 322L1036 325.3ZM1016.7 330L1025.3 328.7L1022.7 331.3ZM565 761.7L571.7 756.7L580 758.3L586.7 753.3L591.7 755L592.5 761.7L588.3 768.3L581.7 776.7L576.7 773.3L571.7 768.3ZM215.8 1298.3L220 1300L220.8 1306.7L218.3 1310L215.8 1310.8ZM1022 374.4L1026 372L1034 372L1038 375.2L1040.4 374.4L1046 372L1050.8 373.6L1054 376L1058 380L1061.2 383.2L1058 386.4L1054 388L1050 389.6L1046 391.2L1042 388L1038.8 384.8L1033.2 381.6L1027.6 378.4L1023.6 376.8ZM1021.2 400.8L1023.6 394.4L1026.8 388.8L1030.8 392L1036.4 394.4L1042 395.2L1046 398.4L1046.8 401.6L1044.4 404.8L1038.8 407.2L1034 406.4L1029.2 404.8L1025.2 403.2Z"/>
<path fill="#56b0ad" d="M986.7 305.3L990 303.3L992.7 306L990 308.7ZM570 765L576.7 762.5L583.3 765L580.8 770.8L578.3 773.3L574.2 770ZM1038.8 382.4L1042 378.4L1046 376L1050.8 377.6L1054.8 380L1058.8 383.6L1054.8 386.4L1050 388L1046 388.8L1042 386.4ZM1026 400.8L1030.8 397.6L1035.6 395.2L1040.4 397.6L1043.6 400.8L1040.4 404.8L1035.6 406.4L1030.8 404Z"/>
<path fill="#84cea5" d="M1041.6 383.2L1044.8 379.6L1048.8 380.4L1054 381.2L1056.8 383.6L1053.2 385.6L1048.4 386.4L1044.4 386.8ZM1030.4 401.2L1035.6 397.2L1040.8 401.2L1035.6 404.4Z"/>
<path fill="#fff" d="M518 253L532 261L525.6 269L519 258ZM608 241L616 239.6L631 237L642 238L650 243L651 253L654 260L653 265L644 269L638 260L633 258L620 259.4L608 256L604.4 251.6L605.6 245ZM679 225L683 225L684.4 227L680 227.6ZM833 252.4L836 251L840 253L836.4 255ZM845.3 427.3L852 423.7L854.9 428L854 432L850 430ZM1081.1 366L1082.4 364.7L1083.3 366.7L1082 368.3ZM1076.7 455L1085 453.3L1098.3 452.5L1106.7 456.7L1116.7 461.7L1120 468.3L1125 475L1136.7 478.3L1143.3 485L1145 490L1136.7 493.3L1130.8 500L1130 506.7L1131.7 515L1130.8 523.3L1135 528.3L1143.3 531.7L1147.5 536.7L1147.5 543.3L1140 544.2L1131.7 538.3L1123.3 531.7L1115 523.3L1108.3 516.7L1108.3 506.7L1107.5 496.7L1103.3 488.3L1096.7 485.8L1088.3 484.2L1085 480L1087.5 471.7L1081.7 463.3ZM1070.8 478.3L1073.3 477.5L1075 480.8L1071.7 481.3ZM1051.7 505.8L1055 504.7L1055.3 507L1052.5 507.5ZM1069.2 515L1073.3 514.7L1071.7 519.2ZM1161.7 505.8L1165 504.7L1166.3 506.7L1163.3 508.3ZM1098.3 560.8L1110 549.2L1115 550.8L1112.5 560L1116.7 562.5L1123.3 560L1120.8 551.7L1126.7 548.7L1130 551.7L1127.5 561.7L1125 568.3L1128.3 578.3L1120 575L1113.3 568.3L1108.3 562.5ZM1077.5 560.3L1081.7 560L1080 563.3ZM1071.7 765L1080 761.7L1090 758.3L1100 755.8L1104.2 748.3L1108.3 741.7L1113.3 748.3L1115 755L1118.3 757.5L1125 753.3L1128.3 754.2L1127.5 763.3L1125.8 772.5L1115 774.2L1103.3 774.2L1090 775.8L1081.7 779.2L1076.7 771.7ZM1094.2 790L1098.3 785.8L1103 790L1098.7 794.2ZM1043.7 726.7L1045.8 725.8L1045.8 729.2L1043.7 728.7ZM1025.3 755L1027 754.7L1026.7 756.7ZM1016.7 762.5L1018.3 761.7L1018.3 765.8L1016.7 765.8ZM557.5 834.2L568.3 833.3L580 833L581.3 835.8L578.3 838L563.3 837.5L558.3 838.3ZM550 860L553.3 856.7L556.7 861.7L558.3 870L550 870ZM550 858.3L553.3 853.3L555.8 860L555 866.7L552.5 871.7L550.3 865ZM277.5 1085.8L283.3 1080L288.3 1073.3L291.7 1078.3L290.8 1085L286.7 1090L280.8 1092.5ZM294.2 1067.5L297.5 1063.3L300 1068.3L297.5 1070.8ZM324.2 1122.5L328.3 1120L336.7 1120.8L339.7 1125L339.2 1130.8L335 1134.2L329.2 1128.3ZM548 823.2L552 824L556.8 828L559.2 833.2L560 838.8L561.6 841.6L558.4 842.4L556 840L553.6 836L551.2 832L548.8 828Z"/>
<path fill="#5c51a3" d="M1095 471.7L1099.2 468L1103 471.7L1099.2 475.3ZM1104.2 480.8L1108.3 476.3L1113 480.8L1108.7 485ZM1113.3 488.3L1119.2 485.3L1127.5 488.3L1126.7 490.8L1119.2 493.7ZM228.3 1250L236.7 1246.7L243.3 1250L246.7 1258.3L241.7 1263.3L246.7 1268.3L253.3 1276.7L253.3 1288.3L248.3 1296.7L243.3 1305L236.7 1296.7L233.3 1285L230 1273.3L228.3 1261.7Z"/>
<path fill="#555aa7" d="M1028 348L1033.3 344L1041.3 338.7L1044 332L1050.7 333.3L1060 341.3L1068 346.7L1073.3 348L1068 352L1060 353.3L1050.7 357.3L1041.3 356L1033.3 354.7Z"/>
</g>
<path class="g" d="M266.0 209.5V1321.5M434.2 209.5V1321.5M602.3 209.5V1321.5M770.5 209.5V1321.5M938.7 209.5V1321.5M1106.8 209.5V1321.5M1275.0 209.5V1321.5M216.5 264.0H1327.5M216.5 432.2H1327.5M216.5 600.3H1327.5M216.5 768.5H1327.5M216.5 936.7H1327.5M216.5 1104.8H1327.5M216.5 1273.0H1327.5"/>
<path class="c" d="M742 209L743 220L745 230L744 240L742 250L745 260L752 268L760 278L770 286L775 294L774.4 300M772 298.7L774.7 302.7L777.3 306L784 309.3L793.3 312.7L802.7 314.7L812 316.7L817.3 318L818 320L814.7 321.3L812 324L811.3 328L813.3 334.7L817.3 341.3L820 344.7L824 346.4L830.7 346.4L836 348L840 351.3L842.9 356L843.7 361.3L841.3 368L839.3 374.7L838.4 380L836 384L832 386.7L826.7 388L824.3 390.7L825.3 394L829.3 395.3L834 395.7L834 401.3L830.7 403.3L826.7 406.7L822.7 410.7L820.7 415.3L821.1 420L824 422.7L828 424.7L830 428L833.3 432L837.3 433.1L833.3 435.3L830.7 438.7L832 443.3L829.3 446L828.7 450L826.7 452L826 456L827.3 460L826.7 466.7L827.3 473.3L827.3 480L825.3 485.3L821.3 490.7L817.3 494.7L810.7 498L804 500M942 209.3L942.4 226.7L942.7 244L945.3 250.7L953.3 254L954.7 260L957.3 266.7L961.3 270.7L965.3 272.7L968.7 268L972.7 262.7L976 260L978.7 262L979.3 272L982.7 276L989.3 281.3L990.7 284.7L997.3 286.4L1005.3 288L1008.7 293.3L1010.7 298.7L1017.3 302.7L1024 308L1030.7 313.3L1037.3 312L1042.7 311.3L1044.7 317.3L1040 325.3L1033.3 329.3L1026.7 332L1020 336L1014.7 336.7L1012 341.3L1012.7 345.3L1017.3 349.3L1021.3 354.7L1022.7 360L1028 365.3L1032 369.3L1036 376L1041.3 375.3L1045.3 374.7L1046.7 377.3L1049.3 378.7L1050.7 384.7L1057.3 385.3L1060 388L1061.3 393.3L1065.3 397.3L1069.3 400M1013.3 209.3L1017.3 216L1026.7 225.3L1036 233.3L1046.7 241.3L1054.7 248L1060 252L1065.3 254L1066.7 258.7L1070 262.7L1073.3 262.7L1078.7 266.7L1084 274.7L1088 277.3L1084.7 278.7L1086 284L1090.7 287.3L1096 288L1099.3 285.3L1098.7 280.7L1104 281.3L1109.3 282.7L1112 280.7L1113.3 286.7L1116 292L1112.7 292L1114.7 294L1122.7 295.3L1130 295.3L1126.7 300L1124 305.3L1126.7 310.7L1130.7 312L1133.3 306.7L1136 302.7L1140 303.3M1017.3 216L1016 221.3L1010.7 222.4L1012 220L1016.7 218M1090 285.8L1095 287.5L1098.3 283.3L1100 280L1105 281.7L1111.7 280.8L1114.2 287.5L1115 292.5L1121.7 294.2L1130 295L1125.8 300L1122.5 303.3L1124.2 307.5L1130 310.8L1133.3 306.7L1132.5 303.3L1135.8 301.7L1140 304.2L1145 303.3L1146.7 305L1142.5 308.3L1137.5 308.3L1135 310L1135.8 315.8L1138.3 321.7L1145 328.3L1151.7 332.5L1154.2 340L1158.3 348.3L1165 356.7L1173.3 367.5L1178.3 373.3L1184.2 374.2L1185 378.3L1181.7 382.5L1177.5 380.8L1176.7 377.5L1180.8 375M1185 378.3L1190 385L1196.7 389.2L1198.3 384.2L1200.8 385L1201.7 390.8L1206.7 393.3L1207.5 398.3L1214.2 404.2L1211.7 407.5L1208.3 407.5L1208.3 415L1205 415L1209.2 418.3L1210.8 426.7L1215 438.3L1219.2 450L1223.3 456.7L1229.2 463.3L1229.2 470L1228.3 476.7L1226.7 480.8L1230 485L1233.3 491.7L1234.2 500M1111.7 291.7L1115 290L1116.7 293.3L1113.3 294.7L1111.7 291.7M1129.2 318.3L1134.2 315L1131.7 318.3L1135.8 316.7M1193.3 395L1196.7 391.7L1199.2 392.5L1195 395.8M1148.3 333.3L1151.7 331.7L1153 333.7M1069.2 398.3L1068.3 406.7L1065 410L1064.2 415L1060 420L1059.2 425L1053.3 426.7L1046.7 428.3L1044.7 431.7L1045.8 435.8L1050 439.2L1056.7 443.3L1056.7 446.7L1053.3 450L1050 454.2L1051.7 459.2L1054.2 462.5L1053.3 466.7L1052.5 473.3L1050 483.3L1046.7 490L1041.7 495.8L1038.3 496.7L1035.8 503.3L1035 513.3L1033.3 521.7L1031.7 528.3L1033.3 533.3L1033.3 541.7L1038.3 543.3L1042.5 545L1044.2 551.7L1045 558.3L1044.2 565L1048.3 571.7L1053.3 578.3L1058.3 586.7L1062.5 595L1063.7 603.3L1063.3 613.3L1060 621.7L1055 633.3L1050.8 643.3L1047.5 650M940 478.3L943.3 485L950 490.8L958.3 495L963.3 496.7L968.3 503.3L975 509.2L981.7 506.7L988.3 507.5L990 504.2L995 499.2L998.3 495L1003.3 498.3L1010 495.8L1015 491.7L1018.3 486.7L1021.7 485L1023.3 480.8L1028.3 476.7L1033.3 479.2L1040 481.7L1046.7 473.3L1053.3 466.7M1233.3 500L1235.8 505L1240 510L1242 516.7L1240 521.7L1238.3 526.7L1241.7 530.8L1246.7 529.2L1243.3 525L1240 521.7M1244.2 530L1247.5 540L1249.2 548.3L1250 553.3L1254.2 557.5L1254.2 570L1250 571.7L1244.2 566.7L1244.2 563.3L1247.5 556.7L1250 553.3M1250 571.7L1245 573.3L1245.8 578.3L1247.5 581.7L1242.5 585L1246.7 588.3L1251.7 591.7L1255 596.7L1256.7 603.3L1257.5 608.3L1254.2 610.8L1250 609.2L1246.7 606.7L1245 610L1245.8 615L1250 618.3L1255 623.3L1255 628.3L1250 629.2L1248.3 625L1250.8 622.5L1255 623.3M1255 628.3L1255 635L1253.3 641.7L1256.7 648.3L1261.7 655L1266.7 661.7L1270.8 666.7L1271.7 671.7L1269.2 674.2L1265 672.5L1260.8 675L1258.3 679.2L1253.3 681.7L1247.5 686.7L1243.3 691.7L1240.8 698.3L1241.7 706.7L1245.8 711.7L1250 715L1254.2 720L1256.7 725L1253.3 728.3L1249.2 725L1245 720L1240.8 716.7L1236.7 718.3L1236.7 721.7L1240 726.7L1245 731.7L1246.7 736.7L1243.3 741.7L1241.7 750M1258.3 679.2L1261.7 685L1264.2 690L1260 691.7L1258.3 696.7L1254.2 698.3L1258.3 702.5L1264.2 705.8L1265 700L1269.2 704.2L1270 698.3L1272.5 694.2L1267.5 693.3L1265 689.2L1261.7 685M1243.3 586.7L1248.3 590L1252.5 593.3L1250 596.7L1254.2 600L1252.5 603.3M1047.5 650L1046.7 656.7L1049.2 658.3L1049.2 665L1051.7 671.7L1055 676.7L1055.8 686.7L1057.5 695L1058.3 701.7L1057.5 711.7L1055 721.7L1051.7 730L1045 735L1041.7 740L1038.3 740L1035 735L1031.7 731.7L1023.3 731.7L1013.3 735L1008.3 740L1001.7 746.7L995 753.3L988.3 758.3L981.7 760.3L970 760.3L965 763.3L961.7 770L958.3 772.5L953.3 772.5L945 771.3L940 770.8M470.8 620L471.7 626.7L475 636.7L480 645L485 651.7L489.2 656.7L486.7 660L487.5 666.7L489.2 675L490.8 681.7L487.5 686.7L488.3 693.3L496.7 698.3L503.3 703.3L510 708.3L515 714.2L520 720L516.7 726.7L514.2 735L512.5 745L513.3 753.3L516.7 760L520 765L525 775L531.7 786.7L536.7 796.7L539.2 806.7L543.3 815L546.7 823.3L550 830L553.3 835M430 701.7L431.7 706.7L436.7 705L440 704.2L446.7 707.5L445 712.5L441.7 715L438.3 710.8L435 706.7L431.7 706.7M441.7 715L448.3 721.7L455 728.3L461.7 735L465 730L466.7 723.3L463.3 719.2L457.5 720L460.8 722.5L465.8 720M461.7 735L467.5 735L471.7 733.3L474.2 729.2L471.7 726.7L469.2 728.3L471.7 730.8M465 736.7L465.8 743.3L467.5 746.7L473.3 746.7L480 749.2L486.7 753.3L493.3 758.3L496.7 762.5L499.2 761.7L498.3 755L496.7 748.3L500 744.2L503.3 745L506.7 750L510 755L515 760L520 765L523.3 771.7L528.3 780L531.7 785L536.7 788.3L535 795L536.7 803.3L540 811.7L542.5 818.3L546.7 820.8L550 816.7L549.2 810L544.2 806.7L543.3 801.7L550 800L555.8 799.2L554.2 801.7L548.3 803.3L550 808.3L552.5 815L554.2 821.7L556.7 826.7L561.7 823.3L563.3 828.3L565.8 833.3L561.7 831.7L558.3 835L557.5 840L562.5 840.8L563.3 845L558.3 848.3L555 853.3L553.3 855.8L557.5 860L559.2 865L558.3 870M596.7 865L600 862.5L606.7 861.7L611.7 865L613.3 870M546.7 850L550 852.5L553.3 850.8L555.8 856.7L557.5 866.7L558.3 876.7L557.5 885L560 891.7L566.7 895L571.7 893.3L576.7 889.2L580 888.3L583.3 891.7L585.8 894.7L592.5 892.5L593 885.8L595 880L597.5 874.2L598.3 868.3L600 863.3L605 861.7L610 864.2L613.3 869.2L616.7 871.7L621.7 872.5L623.3 878.3L625.8 885L627.5 891.7L624.2 898.3L624.2 908.3L616.7 909.2L611.7 910.8L608.3 915L605 920L602.5 923.3L606.7 926.7L609.2 930L613.3 931.7L616.7 935.8L623.3 936.7L630 935L635 931.7L640 928.3L643.3 923.3L644.2 915L646.7 920L650 925L656.7 927.5L666.7 929.2L673.3 929.7L680 930.8M625 930L630 932.5L632.5 935.8M216.7 1017.5L219.2 1021.7L220.3 1030L216.7 1030.8M216.7 1038.3L220 1041.7L218.3 1046.7L216.7 1051.7M216.7 1161.7L220 1168.3L225 1172.5L230 1173.3L230.8 1166.7L229.2 1161.7L225 1160L226.7 1158.3L231.7 1161.7L235.8 1168.3L240 1180L242.5 1193.3L245.8 1208.3L250 1223.3L253.3 1238.3L256.7 1253.3L260 1268.3L264.2 1283.3L270 1296.7L276.7 1305L283.3 1313.3L288.3 1320.8M500 577.5L505 575L510.8 571.7L513.3 566.7L516.7 560L519.2 553.3L523.3 548.3L530.8 542.5L532.5 535L535.8 528.3L537.5 522.5L541.7 520L546.7 517.5L553.3 512.5L560 508.3L568.3 506.7L576.7 504.7L585 504.2L591.7 500.8L595 501.7L600 499.2L606.7 496.3L613.3 498.3L616.7 494.2L620.8 494.7L622.5 500.8L631.7 502.5L638.3 502.5L645 505.8L650 502.5L655 502.5L659.2 505L665 503.3L670 501.7L674.2 502.5L678.3 498.7L680.8 500.8L686.7 498.7L695 501.7L703.3 503L710 504.2L713.3 502L720 503.3L725 498.3L729.2 496.7L733.3 497.5L735.8 495.3L738.3 498L745 494.7L750 496.7M740 497.5L745 494.7L750 497.5L755 497.5L761.7 500L767.5 500.8L768.3 508.3L770.8 515L775 519.7L781.7 518.3L785.8 512.5L788.3 506.7L791.7 505.8L798.3 504.2L804.2 500L806.7 500.8L813.3 496.7L818.3 493.3L823.3 487.5L826.7 482.5L827.5 480M791.7 505.8L793.3 513.3L798.3 520.8L803.3 526.7L808.3 531.7L815 532.5L821.7 530L826.7 527.5L830.8 525.3L835 528.3L840 531.7L846.7 533L853.3 533.3L856.7 538.3L860 543.3L866.7 549.2L873.3 553.3L881.7 552L890.8 553.3L892.5 546.7L896.7 542.5L900 538.3L897.5 533.3L894.2 528.3L890.8 522.5L885 518.3L882.5 511.7L879.2 506.7L880.8 503.3L888.3 504.7L890.8 502L900 502.5L905 499.2L908.3 489.2L913.3 491.7L918.3 494.2L925 493L930 490.8L931.7 486.7L936.7 483.3L938.3 480L940 478.3M938 772L934 774L928 771L930 778L932.4 783L930 790L928 797L931 805L924 804L914 805L910 800L900 797L890 795L884 794L881 801L877 807L867 806L861 810L860 816L867 818L868 826L869 834L866 844L865 848L870 852L872 857L880 860L886 866L892 873L897 871L901 875L904 883L897 885L899 894L902 902L903 906L892 903.6L884 900L876 892.4L872 900L867 899L863 890L856 879L850 878L842 883L832 885.6L823 887L816 884.4L811 888L806 898L800 894L792 891L782 890L779 886.4L773 891L772 898L776 906L778.4 912L774 916L764 921L759 927L752 934L744 935L732 933.6L723 933L718 937L714 944L711 947L706 944L699 939L692 938L689 930L685 928.4L680 930M711 947L715 949L717 946L714 945M714 950L719 960L724 964L727 975L731 976L735 969L742 966L748 970L754 978L760 981L768 981L774 986L780 994L783 1000L784 1009L781 999L776 1000L768 1006L765 1009L759 1009L756 1018L754 1030M1090 913.3L1083.3 919.2L1073.3 923.3L1063.3 927.5L1055 933.3L1045 938.3L1036.7 940.8L1030 943.3L1025 950L1019.2 946.7L1015 941.7L1013.3 938.3L1006.7 937.5L1000 936.7L997.5 930L997.5 921.7L995 915.8L992.5 914.2L994.2 920L993.3 928.3L992.5 935L988.3 936.7L986.7 930L987.5 923.3L981.7 920L978.3 921.7L981.7 926.7L980.8 933.3L985 935L986.7 940L991.7 945.8L986.7 948.3L982.5 950L981.7 945L978.3 941.7L975 945L971.7 941.7L969.2 936.7L968.3 930L970 923.3L966.7 918.3L970 915.8L975 920L973.3 926.7L971.7 933.3L973.3 940L971.7 945L973.3 953.3L971.7 960L967.5 962.5L964.2 965.8L956.7 961.7L948.3 959.2L938.3 957.5L930.8 956.7L935 960L943.3 963.3L953.3 967.5L963.3 970.8L971.7 974.2L972.5 980L968.3 985L963.3 986.7L960.8 983.3L960 988.3L957.5 990L959.2 993.3L955 995L949.2 994.2L943.3 990.8L938.3 986.7L933.3 981.7L928.3 975L923.3 968.3L920 964.2L915.8 963L920 966.7L922.5 973.3L926.7 980L932.5 986.7L938.3 990.8L945 995L953.3 1000L960 1003.3L960.8 1007.5L957.5 1011.7L953.3 1013.3L948.3 1012.5L943.3 1008.3L938.3 1004.2L931.7 998.3L923.3 990L915 981.7L906.7 973.3L901.7 968.3L897.5 965.8L895.8 966.7L901.7 973.3L903.3 978.3L910 985L916.7 991.7L923.3 998.3L930 1005L936.7 1010L940.8 1013.3L942.5 1020L947.5 1021.7L948.3 1028.3L946.7 1035L941.7 1040.8L935 1044.2L928.3 1044.2L921.7 1040L915 1035L908.3 1030L901.7 1023.3L895 1016.7L888.3 1010L880 1001.7L871.7 995L863.3 990.8L866.7 996.7L873.3 1003.3L881.7 1011.7L890 1018.3L895 1026.7L898.3 1033.3L903.3 1040L908.3 1040.8L913.3 1038.3L915 1042.5L911.7 1045L906.7 1044.2L906.7 1051.7L902.5 1056.7L905 1060.8L904.2 1063.3L895 1065.8L885 1069.2L873.3 1074.2L861.7 1079.2L850 1084.2L840 1087.5M947.5 937.5L948.3 943.3L951.7 944.2L955 938.3L957.5 934.2L960 938.3L958.3 943.3L963.3 938.3L967.5 935M891.7 1020L896.7 1030L901.7 1038.3L906.7 1042.5M930 998.3L935 1003.3L940 1009.2M754 1030L752.4 1044L751.6 1060L750.4 1080L749.6 1096L749 1110L747 1118L745.6 1125L749 1130L756 1129L762 1126L762.4 1134L756 1136L753 1137L759 1139L766 1136L762 1140L754 1139L751 1142L744 1147L739 1148L742 1150L749 1151.6L754 1153.6L764 1151L774 1148L782 1146L786 1141L790 1135L794 1132L800 1131L806 1125L810 1118L814 1110L817 1104L820 1100L825 1095L831 1090L840 1086.4M215.8 609.5L225 606.7L233.3 603.7L239.2 600.8L240.8 598.3L244.2 600.8L248.3 602L256.7 600.8L266.7 599.7L274.2 598L275.3 591.7L277 587L277.5 593.3L280 595.8L286.7 598.7L296.7 600.8L306.7 603.3L316.7 603.7L320 601.3L322.5 600.5L319.2 605L320.8 610L320 615.8L315 618.3L312.5 623.3L315 627.5L316.3 632.5L313.3 638.3L310 643.3L308.3 645.8L312.5 649.2L315 654.2L313.3 658.3L310 660L309.2 663.3L306.7 665.3L309.2 670L312.5 675L314.2 678.3L311.7 682.5L307.5 682.5L305 685.8L303.7 689.2L306.7 692.5L305.8 695L310.8 693.3L315 695.8L314.2 699.2L319.2 701.3L320 695.8L326.7 694.2L331.7 691.7L340 692.5L350 694.2L358.3 696.7L365 699.7L369.2 701.7L371.7 698.3L378.3 696.7L385 697.5L386.7 695L395 694.7L398.3 690L402.5 688.7L410 689.2L415.8 692.5L420 697.5L423.3 703.3L427.5 708.3L431.7 706.7M423.3 701.7L425.8 706.7L427.5 700.8L430 705M215.8 637.5L219.2 640L220.8 646.7L222.5 650.8L220 655L215.8 658.3M1241.7 750L1238.3 755L1241.7 760L1240 764.2L1243.3 767.5L1247.5 770L1251.7 771.7L1250.8 778.3L1252.5 782.5L1248.3 783.3L1245 781.7L1244.2 775.8L1241.7 778.3L1236.7 780L1233.3 783.3L1234.2 787.5L1239.2 786.7L1241.7 784.2L1240.8 788.3L1243.3 794.2L1246.7 798.3L1242.5 803.3L1239.2 810L1234.2 816.7L1228.3 815L1225 813.3L1224.2 809.2L1221.7 810L1223.3 815L1222.5 820L1220.8 820.8L1223.3 822.5L1222.5 830L1222.5 839.2L1218.3 844.2L1213.3 845.8L1208.3 844.2L1203.3 842.5L1198.3 844.2L1194.2 847.5L1191.7 852.5L1190 859.2L1185.8 860L1180 858.7L1171.7 860L1166.7 863.3L1162.5 868.3L1160.8 874.2L1155 875.8L1148.3 877.5L1145.8 885L1141.7 890L1139.2 888.3L1139.2 885.8L1133.3 885.8L1126.7 887.5L1120 889.2L1115 894.2L1111.7 901.7L1109.2 909.2L1106.7 914.2L1102.5 912.5L1096.7 911.3L1090 913.7M500 577.5L497 579L495 581.5L496 584.5L501.5 588L499 589L494 591.5L489 593L484 593.5L478 592.5L472 592.5L469.5 594.5L469.5 597L471 600L471.2 606L471.5 611L470.8 618L471 621M1044.7 246.7L1050.7 247.3L1060 252L1065.3 253.3L1061.3 254.7L1053.3 251.3L1046.7 248.7ZM1248.3 743.3L1254.2 741.7L1258.3 745L1253.3 747.5L1248.3 746.7ZM462.5 750.8L470 751.7L475 758.3L480 765L484.2 770L481.7 772.5L478.3 770L475 771.7L470 772.5L467.5 770L467.5 763.3L465 758.3ZM495 800L496.7 795L499.2 798.3L500.8 803.3L502.5 810L500.8 817.5L496.7 813.3L494.2 811.7L495.8 806.7ZM545 835L547.5 832.5L550 835.8L550.8 843.3L550 850.8L547.5 852.5L545 848.3ZM568.3 906.7L571.7 903.3L576.7 907.5L580.8 910L582.5 914.2L578.3 916.7L575.8 913.3L571.7 912.5ZM578.3 924.2L580.8 921.7L584.2 926.7L583.3 931.7L580.8 930ZM630 938.3L634.2 935L637.5 938.3L636.7 941.7L632.5 942ZM640.8 951.7L648.3 950L653.3 948.3L656.7 943.3L659.2 941.3L663.3 945L668.3 951.7L669.2 961.7L666.7 971.7L664.2 981.7L665 991.7L660.8 990L658.3 981.7L656.7 971.7L653.3 965L646.7 960L641.7 956.7ZM225.8 1250L228.3 1245L233.3 1240.8L240 1239.2L244.2 1241.7L245 1250L246.7 1258.3L245 1262.5L241.7 1265L240.8 1268.3L243.3 1270.8L245 1265.8L249.2 1263.3L253.3 1265.8L255 1271.7L255.8 1280L257.5 1288.3L258.3 1296.7L255 1300L253.3 1295L250 1291.7L245 1290L240 1286.7L236.7 1280L233.3 1273.3L230 1270L227.5 1261.7ZM253.3 1303.3L257.5 1300L263.3 1300L270 1303.3L275.8 1304.2L276.7 1308.3L273.3 1312.5L268.3 1314.2L263.3 1313.3L258.3 1310L255 1306.7ZM1004.2 948.3L1008.3 947.5L1013.3 944.2L1015 940.8L1019.2 943.3L1015 946.7L1011.7 949.2L1008.3 951.7L1005 956.7L1003.3 951.7ZM946 1140L948 1136L953 1132.4L957.6 1131L956 1135L952 1137L951 1142L948 1144ZM1210.8 932.5L1213 930.8L1215.3 933.3L1214.7 936.3L1211.7 935.8Z"/>
</g>
<rect x="216.5" y="209.5" width="1111.0" height="1112.0" fill="none" stroke="#000" stroke-width="3.3" stroke-linejoin="miter"/>
<text class="t" x="756.8" y="126">Acc.RF(mm) 20250328_00 to 20250329_00</text>
<text class="t" x="772" y="184">Simulation Time: 20250327_12</text>
<text class="k" text-anchor="middle" transform="translate(266.6 1375) scale(1 1.035)">100.5°E</text>
<text class="k" text-anchor="middle" transform="translate(434.8 1375) scale(1 1.035)">102°E</text>
<text class="k" text-anchor="middle" transform="translate(602.9 1375) scale(1 1.035)">103.5°E</text>
<text class="k" text-anchor="middle" transform="translate(771.1 1375) scale(1 1.035)">105°E</text>
<text class="k" text-anchor="middle" transform="translate(939.3 1375) scale(1 1.035)">106.5°E</text>
<text class="k" text-anchor="middle" transform="translate(1107.4 1375) scale(1 1.035)">108°E</text>
<text class="k" text-anchor="middle" transform="translate(1275.6 1375) scale(1 1.035)">109.5°E</text>
<text class="k" text-anchor="end" transform="translate(195.4 276.2) scale(1 1.035)">16.5°N</text>
<text class="k" text-anchor="end" transform="translate(195.4 444.4) scale(1 1.035)">15°N</text>
<text class="k" text-anchor="end" transform="translate(195.4 612.5) scale(1 1.035)">13.5°N</text>
<text class="k" text-anchor="end" transform="translate(195.4 780.7) scale(1 1.035)">12°N</text>
<text class="k" text-anchor="end" transform="translate(195.4 948.9) scale(1 1.035)">10.5°N</text>
<text class="k" text-anchor="end" transform="translate(195.4 1117.0) scale(1 1.035)">9°N</text>
<text class="k" text-anchor="end" transform="translate(195.4 1285.2) scale(1 1.035)">7.5°N</text>
<rect x="1396.5" y="1323.57" width="66.6" height="106.13" fill="#5c51a3"/>
<rect x="1396.5" y="1218.04" width="66.6" height="106.13" fill="#555aa7"/>
<rect x="1396.5" y="1112.51" width="66.6" height="106.13" fill="#496aaf"/>
<rect x="1396.5" y="1006.98" width="66.6" height="106.13" fill="#3682ba"/>
<rect x="1396.5" y="901.45" width="66.6" height="106.13" fill="#4199b6"/>
<rect x="1396.5" y="795.92" width="66.6" height="106.13" fill="#56b0ad"/>
<rect x="1396.5" y="690.39" width="66.6" height="106.13" fill="#84cea5"/>
<rect x="1396.5" y="584.86" width="66.6" height="106.13" fill="#c3e79f"/>
<rect x="1396.5" y="479.33" width="66.6" height="106.13" fill="#f1f9a9"/>
<rect x="1396.5" y="373.80" width="66.6" height="106.13" fill="#fff1a8"/>
<rect x="1396.5" y="268.27" width="66.6" height="106.13" fill="#fdaf62"/>
<rect x="1396.5" y="162.74" width="66.6" height="106.13" fill="#d43d4f"/>
<path d="M1396.5 163.0L1429.80 99.8L1463.1 163.0Z" fill="#9e0142"/>
<path d="M1396.5 1429.4V163.0L1429.80 99.8L1463.1 163.0V1429.4Z" fill="none" stroke="#000" stroke-width="3.3" stroke-linejoin="miter"/>
<path d="M1463.1 1430.2h15.5" stroke="#000" stroke-width="3.3" fill="none"/>
<text class="k" transform="translate(1492 1445.2) scale(1 1.035)">5</text>
<path d="M1463.1 1219.1h15.5" stroke="#000" stroke-width="3.3" fill="none"/>
<text class="k" transform="translate(1492 1234.1) scale(1 1.035)">20</text>
<path d="M1463.1 1008.1h15.5" stroke="#000" stroke-width="3.3" fill="none"/>
<text class="k" transform="translate(1492 1023.1) scale(1 1.035)">60</text>
<path d="M1463.1 797.0h15.5" stroke="#000" stroke-width="3.3" fill="none"/>
<text class="k" transform="translate(1492 812.0) scale(1 1.035)">100</text>
<path d="M1463.1 586.0h15.5" stroke="#000" stroke-width="3.3" fill="none"/>
<text class="k" transform="translate(1492 601.0) scale(1 1.035)">200</text>
<path d="M1463.1 374.9h15.5" stroke="#000" stroke-width="3.3" fill="none"/>
<text class="k" transform="translate(1492 389.9) scale(1 1.035)">300</text>
<path d="M1463.1 163.8h15.5" stroke="#000" stroke-width="3.3" fill="none"/>
<text class="k" transform="translate(1492 178.8) scale(1 1.035)">500</text>
</svg></body></html>
